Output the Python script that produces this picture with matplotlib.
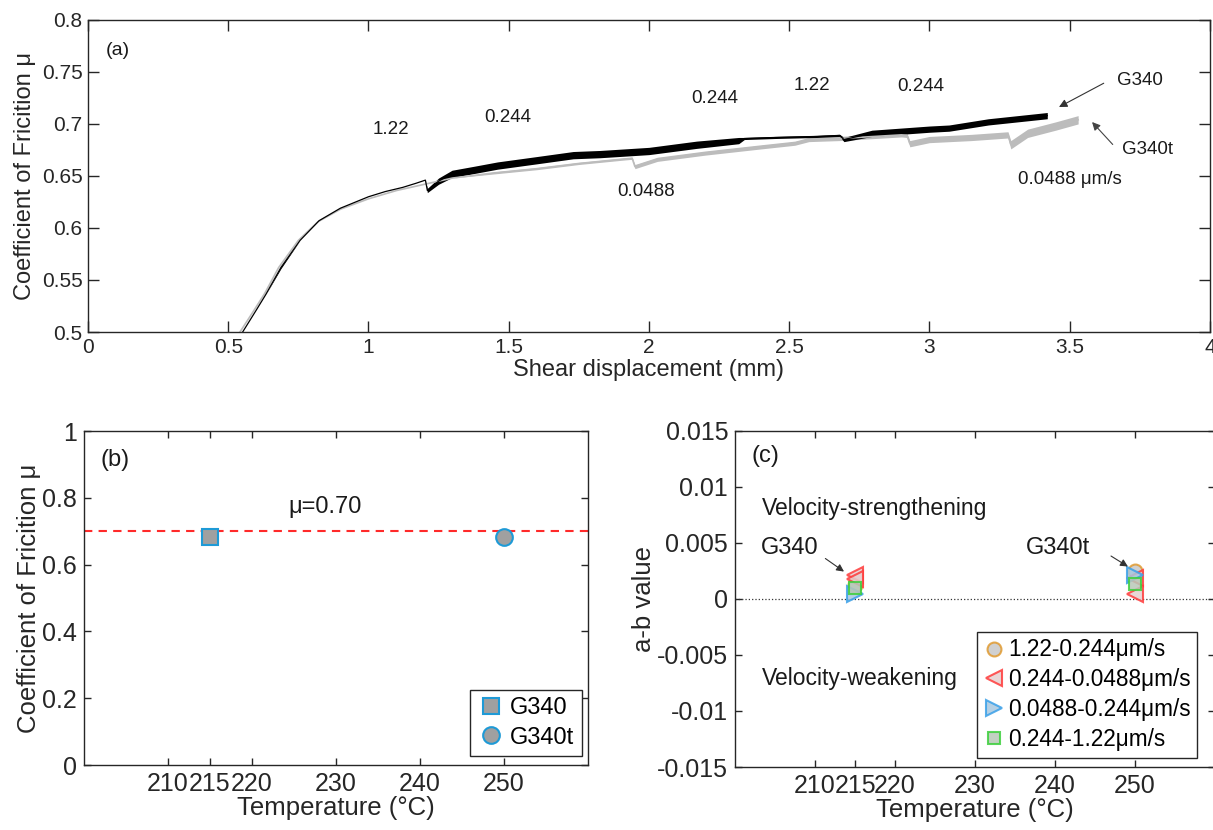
import matplotlib
matplotlib.use('Agg')
import matplotlib.pyplot as plt
import numpy as np

plt.rcParams['font.family'] = ['Liberation Sans', 'DejaVu Sans']
plt.rcParams['axes.unicode_minus'] = False

# ---- panel (a): friction vs shear displacement
g340_x = [0.54, 0.60, 0.634, 0.688, 0.756, 0.824, 0.90, 1.0, 1.06, 1.122, 1.17, 1.203,
          1.21, 1.25, 1.298, 1.38, 1.46, 1.596, 1.73, 1.825, 2.0, 2.17, 2.32,
          2.34, 2.45, 2.6, 2.68, 2.695, 2.795, 3.0, 3.07, 3.21, 3.42]
g340_y = [0.495, 0.521, 0.536, 0.562, 0.588, 0.607, 0.619, 0.630, 0.635, 0.639, 0.643, 0.646,
          0.636, 0.645, 0.652, 0.656, 0.660, 0.665, 0.670, 0.671, 0.674, 0.680, 0.684,
          0.686, 0.687, 0.688, 0.689, 0.685, 0.691, 0.695, 0.696, 0.702, 0.708]
g340_hw = [0, 0, 0, 0.001, 0, 0, 0, 0, 0, 0, 0, 0,
           0.002, 0.003, 0.0035, 0.0035, 0.0035, 0.0035, 0.0035, 0.0035, 0.0035, 0.0035, 0.003,
           0.001, 0.001, 0.001, 0.001, 0.002, 0.003, 0.003, 0.003, 0.003, 0.003]

g340t_x = [0.53, 0.59, 0.63, 0.68, 0.75, 0.82, 0.90, 1.0, 1.1, 1.2, 1.3, 1.45, 1.6, 1.75,
           1.9, 1.94, 1.95, 2.03, 2.2, 2.4, 2.52, 2.57, 2.68, 2.9, 2.92, 2.93, 3.0, 3.15,
           3.28, 3.29, 3.35, 3.45, 3.53]
g340t_y = [0.495, 0.52, 0.537, 0.562, 0.588, 0.606, 0.618, 0.628, 0.636, 0.642, 0.648, 0.653,
           0.657, 0.662, 0.666, 0.667, 0.659, 0.666, 0.672, 0.678, 0.6815, 0.685, 0.686,
           0.6895, 0.689, 0.681, 0.685, 0.687, 0.6895, 0.680, 0.691, 0.698, 0.704]
g340t_hw = [0, 0, 0, 0, 0, 0, 0, 0, 0, 0, 0, 0.001, 0.001, 0.001,
            0.001, 0.001, 0.002, 0.002, 0.002, 0.002, 0.002, 0.002, 0.002, 0.002, 0.002,
            0.003, 0.003, 0.003, 0.003, 0.004, 0.004, 0.004, 0.004]

speed_labels = ['1.22', '0.244', '0.244', '1.22', '0.244', '0.0488', '0.0488 \u03bcm/s']
speed_x = [1.08, 1.495, 2.234, 2.58, 2.968, 1.99, 3.50]
speed_y = [0.695, 0.706, 0.7245, 0.737, 0.7357, 0.635, 0.6465]

# ---- panel (b): mean friction per sample
temps = [215, 250]
mu_g340 = 0.682
mu_g340t = 0.682
mu_ref = 0.70

# ---- panel (c): a-b values per velocity step
ab_labels = ['1.22-0.244\u03bcm/s', '0.244-0.0488\u03bcm/s', '0.0488-0.244\u03bcm/s', '0.244-1.22\u03bcm/s']
ab_t = [[215, 250], [215, 215, 250, 250], [215, 250], [215, 250]]
ab_v = [[0.0012, 0.0025], [0.0021, 0.0018, 0.0019, 0.0004], [0.0004, 0.0021], [0.0010, 0.0013]]

axc = '#262626'
fig = plt.figure(figsize=(12.13, 8.30), dpi=100)

# ================= (a)
ax = fig.add_axes([0.0725, 0.60, 0.925, 0.376])
ax.fill_between(g340t_x, np.array(g340t_y) - np.array(g340t_hw), np.array(g340t_y) + np.array(g340t_hw),
                color='#bcbcbc', lw=0)
ax.plot(g340t_x, g340t_y, color='#bcbcbc', lw=1.2)
ax.fill_between(g340_x, np.array(g340_y) - np.array(g340_hw), np.array(g340_y) + np.array(g340_hw),
                color='black', lw=0)
ax.plot(g340_x, g340_y, color='black', lw=0.9)
for s, x, y in zip(speed_labels, speed_x, speed_y):
    ax.text(x, y, s, fontsize=13.5, ha='center', va='center', color='#1a1a1a')
ax.text(0.065, 0.771, '(a)', fontsize=14, ha='left', va='center', color='#1a1a1a')
ax.annotate('', xy=(3.453, 0.715), xytext=(3.63, 0.7404),
            arrowprops=dict(arrowstyle='-|>', color='#333333', lw=0.8, mutation_scale=12))
ax.text(3.67, 0.742, 'G340', fontsize=13.5, ha='left', va='center', color='#1a1a1a')
ax.annotate('', xy=(3.573, 0.7038), xytext=(3.66, 0.6783),
            arrowprops=dict(arrowstyle='-|>', color='#444444', lw=0.8, mutation_scale=12))
ax.text(3.685, 0.675, 'G340t', fontsize=13.5, ha='left', va='center', color='#1a1a1a')
ax.set_xlim(0, 4)
ax.set_ylim(0.5, 0.8)
ax.set_xticks(np.arange(0, 4.01, 0.5))
ax.set_xticklabels(['0', '0.5', '1', '1.5', '2', '2.5', '3', '3.5', '4'])
ax.set_yticks(np.arange(0.5, 0.801, 0.05))
ax.set_yticklabels(['0.5', '0.55', '0.6', '0.65', '0.7', '0.75', '0.8'])
ax.set_xlabel('Shear displacement (mm)', fontsize=17, color=axc, labelpad=2)
ax.set_ylabel('Coefficient of Fricition \u03bc', fontsize=17, color=axc, labelpad=4)
ax.tick_params(direction='in', top=True, right=True, length=8, width=1, colors=axc,
               labelsize=15, pad=4)

# ================= (b)
ax = fig.add_axes([0.0692, 0.0783, 0.4155, 0.4024])
ax.axhline(mu_ref, color='#ff2a2a', ls='--', lw=1.5, dashes=(4, 3))
ax.plot(temps[0], mu_g340, 's', ms=11, mfc='#a0a0a0', mec='#1e9ad6', mew=1.5, label='G340')
ax.plot(temps[1], mu_g340t, 'o', ms=12, mfc='#a0a0a0', mec='#1e9ad6', mew=1.5, label='G340t')
ax.text(228.7, 0.774, '\u03bc=0.70', fontsize=17, ha='center', va='center', color='#1a1a1a')
ax.text(202.0, 0.913, '(b)', fontsize=17, ha='left', va='center', color='#1a1a1a')
ax.set_xlim(200, 260)
ax.set_ylim(0, 1)
ax.set_xticks([210, 215, 220, 230, 240, 250])
ax.set_yticks([0, 0.2, 0.4, 0.6, 0.8, 1])
ax.set_yticklabels(['0', '0.2', '0.4', '0.6', '0.8', '1'])
ax.set_xlabel('Temperature (\u00b0C)', fontsize=18.5, color=axc, labelpad=0)
ax.set_ylabel('Coefficient of Fricition \u03bc', fontsize=18.5, color=axc, labelpad=1)
ax.tick_params(direction='in', top=True, right=True, length=5, width=1, colors=axc,
               labelsize=18, pad=5)
leg = ax.legend(loc='lower right', bbox_to_anchor=(0.9875, 0.028), fontsize=17,
                fancybox=False, edgecolor=axc, framealpha=1, handletextpad=0.2,
                borderpad=0.3, labelspacing=0.3, handlelength=1.2, borderaxespad=0)
leg.get_frame().set_linewidth(1.0)

# ================= (c)
ax = fig.add_axes([0.606, 0.0759, 0.3957, 0.405])
ax.axhline(0, color='#333333', ls=':', lw=0.9)
mk = ['o', '<', '>', 's']
ec = ['#e09a30', '#ff3b3b', '#3aa0e8', '#3ccf3c']
fc = ['#c8c8c8', '#e6d0d0', '#a8c8e0', '#b8c8b8']
ms = [10, 11, 11, 8]
for i in range(4):
    ax.plot(ab_t[i], ab_v[i], mk[i], ms=ms[i], mfc=fc[i], mec=ec[i], mew=1.5, alpha=0.85,
            label=ab_labels[i])
ax.text(202.1, 0.0128, '(c)', fontsize=17, ha='left', va='center', color='#1a1a1a')
ax.text(203.3, 0.0081, 'Velocity-strengthening', fontsize=16.5, ha='left', va='center', color='#1a1a1a')
ax.text(203.2, 0.00455, 'G340', fontsize=17, ha='left', va='center', color='#1a1a1a')
ax.text(236.4, 0.00455, 'G340t', fontsize=17, ha='left', va='center', color='#1a1a1a')
ax.text(203.3, -0.0071, 'Velocity-weakening', fontsize=16.5, ha='left', va='center', color='#1a1a1a')
ax.annotate('', xy=(213.9, 0.0023), xytext=(211.0, 0.00375),
            arrowprops=dict(arrowstyle='-|>', color='#333333', lw=0.8, mutation_scale=11))
ax.annotate('', xy=(249.4, 0.00276), xytext=(246.7, 0.00396),
            arrowprops=dict(arrowstyle='-|>', color='#333333', lw=0.8, mutation_scale=11))
ax.set_xlim(200, 260)
ax.set_ylim(-0.015, 0.015)
ax.set_xticks([210, 215, 220, 230, 240, 250])
ax.set_yticks([-0.015, -0.01, -0.005, 0, 0.005, 0.01, 0.015])
ax.set_yticklabels(['-0.015', '-0.01', '-0.005', '0', '0.005', '0.01', '0.015'])
ax.set_xlabel('Temperature (\u00b0C)', fontsize=18.5, color=axc, labelpad=0)
ax.set_ylabel('a-b value', fontsize=18.5, color=axc, labelpad=1)
ax.tick_params(direction='in', top=True, right=True, length=5, width=1, colors=axc,
               labelsize=18, pad=5)
leg = ax.legend(loc='lower right', bbox_to_anchor=(0.963, 0.028), fontsize=16.3,
                fancybox=False, edgecolor=axc, framealpha=1, handletextpad=0.15,
                borderpad=0.3, labelspacing=0.3, handlelength=0.9, borderaxespad=0)
leg.get_frame().set_linewidth(1.0)

for a in fig.axes:
    for sp in a.spines.values():
        sp.set_color(axc)
        sp.set_linewidth(1.0)

fig.savefig('out.png', dpi=100)
